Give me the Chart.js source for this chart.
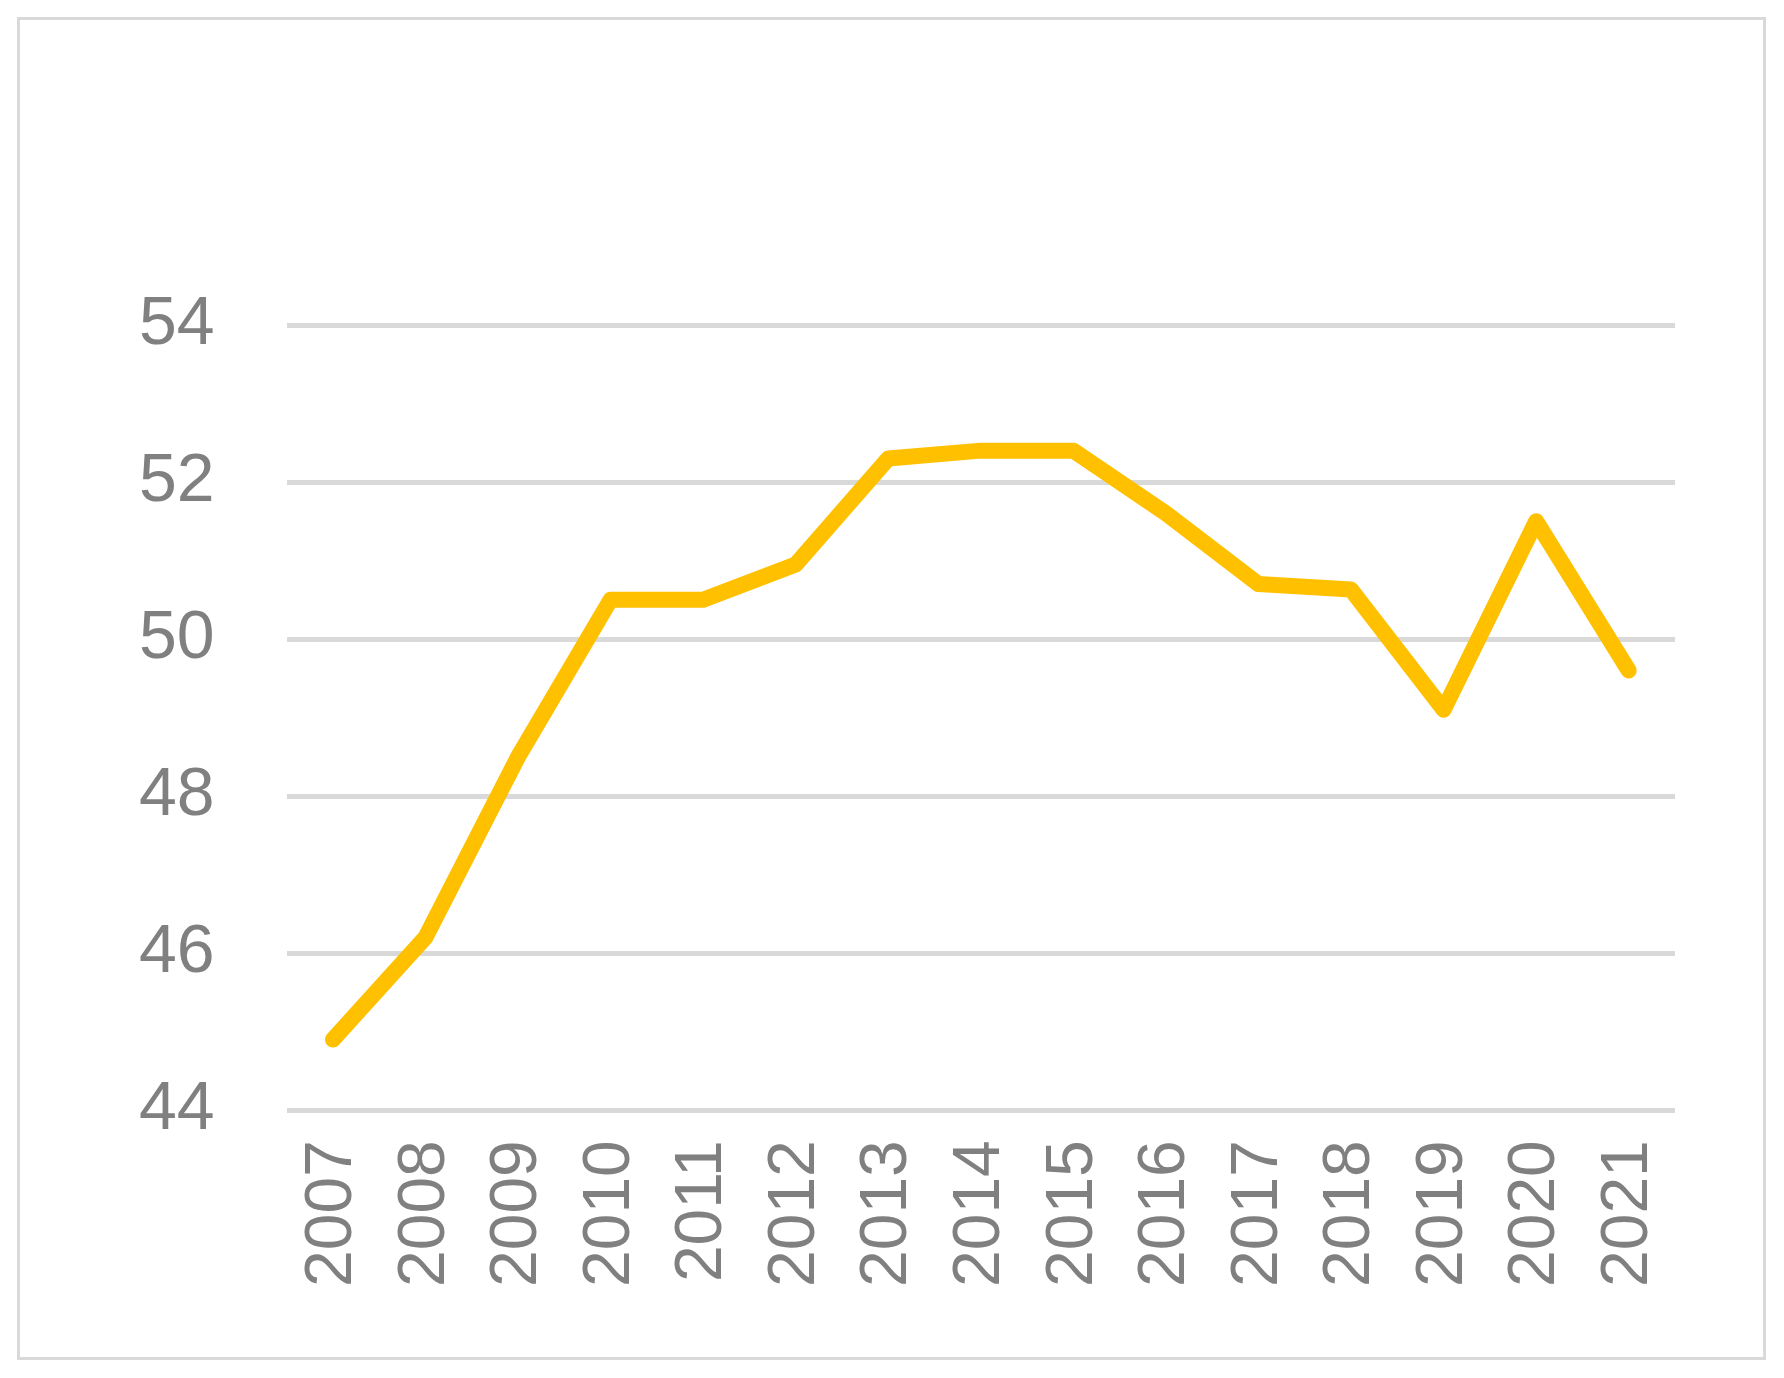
<!DOCTYPE html>
<html><head><meta charset="utf-8">
<script src="https://cdn.jsdelivr.net/npm/chart.js@4"></script>
<style>
html,body{margin:0;padding:0;background:#fff;width:1784px;height:1378px;overflow:hidden}
#wrap{position:absolute;left:17px;top:17px;width:1743px;height:1337px;border:3px solid #d9d9d9}
</style></head><body>
<div id="wrap"><canvas id="c" width="1743" height="1337"></canvas></div>
<script>
const years=['2007','2008','2009','2010','2011','2012','2013','2014','2015','2016','2017','2018','2019','2020','2021'];
const values=[44.9,46.2,48.5,50.5,50.5,50.95,52.3,52.4,52.4,51.6,50.7,50.63,49.1,51.5,49.6];
new Chart(document.getElementById('c'),{
type:'line',
data:{labels:years,datasets:[{data:values,borderColor:'#FFC000',borderWidth:16,pointRadius:0,tension:0,fill:false,borderCapStyle:'round',borderJoinStyle:'round'}]},
options:{responsive:false,animation:false,
layout:{padding:{left:47,right:88,top:305,bottom:48}},
plugins:{legend:{display:false},tooltip:{enabled:false}},
scales:{
x:{offset:true,grid:{display:false},border:{display:false},
ticks:{color:'#808080',font:{family:'Liberation Sans',size:66},maxRotation:90,minRotation:90,padding:22}},
y:{min:44,max:54,grid:{color:'#d9d9d9',lineWidth:5,drawTicks:false},border:{display:false},
ticks:{stepSize:2,color:'#808080',font:{family:'Liberation Sans',size:68},padding:72}}
}}});
</script></body></html>
